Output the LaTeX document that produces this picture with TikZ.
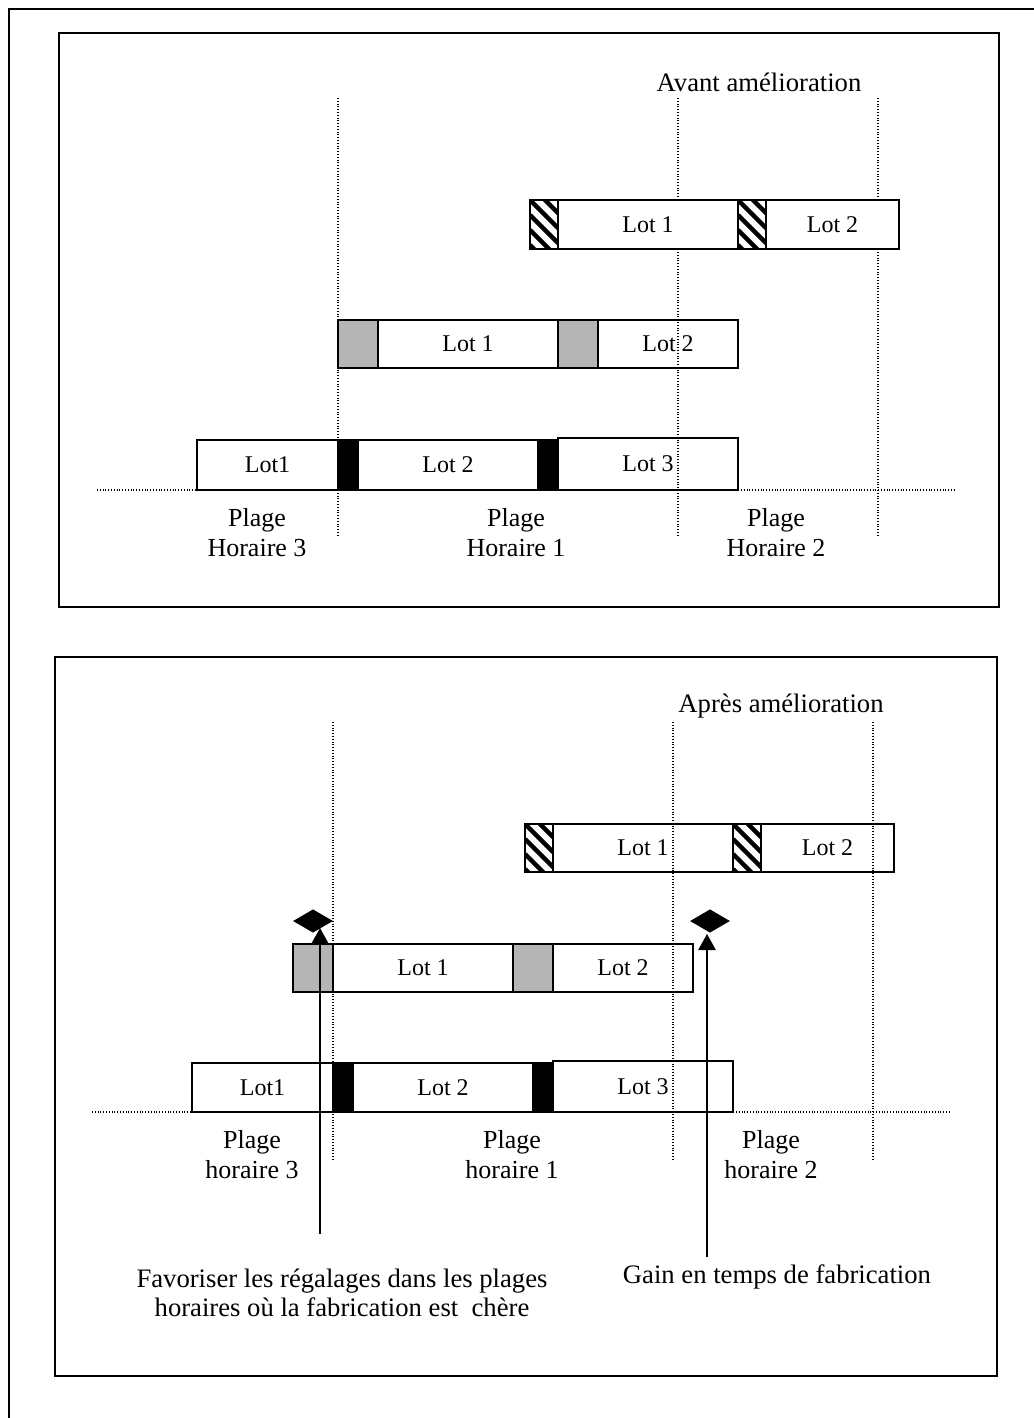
\documentclass[tikz,border=0pt]{standalone}
\usepackage{fontspec}
\setmainfont{Liberation Serif}
\usetikzlibrary{shapes.geometric,arrows.meta}
\newcommand\blk[7]{\node[#6, minimum width={(#3-#2)*0.75pt}, minimum height={(#5-#4)*0.75pt}] (#1) at ({(#2+#3)/2},{(#4+#5)/2}) {#7};}
\begin{document}
\begin{tikzpicture}[x=0.75pt,y=-0.75pt,
  frame/.style={line width=1.8pt},
  lotbox/.style={draw, fill=white, line width=1.4pt, inner sep=0pt, outer sep=0pt, font=\fontsize{18}{20}\selectfont},
  greybox/.style={lotbox, fill=gray!58},
  blackbox/.style={lotbox, fill=black},
  hatchbox/.style={lotbox, path picture={\foreach \k in {-4,...,3}{\draw[line width=3.2pt, line cap=butt] ([yshift=\k*11.25pt]path picture bounding box.north west) -- ++(60pt,-60pt);}}},
  gridline/.style={line width=0.8pt, dash pattern=on 0.8pt off 1.3pt},
  lbl/.style={align=center, font=\fontsize{19.5}{22.5}\selectfont},
  note/.style={align=center, font=\fontsize{20}{22}\selectfont},
  ttl/.style={font=\fontsize{20}{22}\selectfont},
  arr/.style={line width=1.2pt, -{Triangle[width=13pt,length=12pt]}},
  dia/.style={diamond, fill=black, inner sep=0pt, minimum width=30pt, minimum height=17.5pt}
]
\useasboundingbox (0,0) rectangle (1034,1418);
% outer frame (top and left edges)
\coordinate (o1) at (1034,9);
\coordinate (o2) at (9,9);
\coordinate (o3) at (9,1418);
\draw[frame] (o1) -- (o2) -- (o3);
% panel frames
\draw[frame] (59,33) rectangle (999,607);
\draw[frame] (55,657) rectangle (997,1376);

% ================= Panel 1 =================
\node[ttl] (t1) at (759,82) {Avant amélioration};
% row 2 and row 3 (grid lines drawn over them)
\blk{p1g1}{338}{378}{320}{368}{greybox}{}
\blk{p1r2a}{378}{558}{320}{368}{lotbox}{Lot 1}
\blk{p1g2}{558}{598}{320}{368}{greybox}{}
\blk{p1r2b}{598}{738}{320}{368}{lotbox}{Lot 2}
\blk{p1r3a}{197}{338}{440}{490}{lotbox}{Lot1}
\blk{p1k1}{338}{358}{440}{490}{blackbox}{}
\blk{p1r3b}{358}{538}{440}{490}{lotbox}{Lot 2}
\blk{p1k2}{538}{558}{440}{490}{blackbox}{}
\blk{p1r3c}{558}{738}{438}{490}{lotbox}{Lot 3}
% grid
\coordinate (p1v1t) at (338,98);  \coordinate (p1v1b) at (338,535);
\coordinate (p1v2t) at (678,98);  \coordinate (p1v2b) at (678,535);
\coordinate (p1v3t) at (878,98);  \coordinate (p1v3b) at (878,535);
\coordinate (p1al) at (97,490);   \coordinate (p1ar) at (955,490);
\draw[gridline] (p1v1t) -- (p1v1b);
\draw[gridline] (p1v2t) -- (p1v2b);
\draw[gridline] (p1v3t) -- (p1v3b);
\draw[gridline] (p1al) -- (p1ar);
% row 1 (opaque over grid)
\blk{p1h1}{530}{558}{200}{249}{hatchbox}{}
\blk{p1r1a}{558}{738}{200}{249}{lotbox}{Lot 1}
\blk{p1h2}{738}{766}{200}{249}{hatchbox}{}
\blk{p1r1b}{766}{899}{200}{249}{lotbox}{Lot 2}
% labels
\node[lbl] (p1l3) at (257,533) {Plage\\Horaire 3};
\node[lbl] (p1l1) at (516,533) {Plage\\Horaire 1};
\node[lbl] (p1l2) at (776,533) {Plage\\Horaire 2};

% ================= Panel 2 =================
\node[ttl] (t2) at (781,706) {Après amélioration};
\blk{p2h1}{525}{553}{824}{872}{hatchbox}{}
\blk{p2r1a}{553}{733}{824}{872}{lotbox}{Lot 1}
\blk{p2h2}{733}{761}{824}{872}{hatchbox}{}
\blk{p2r1b}{761}{894}{824}{872}{lotbox}{Lot 2}
\blk{p2g1}{293}{333}{944}{992}{greybox}{}
\blk{p2r2a}{333}{513}{944}{992}{lotbox}{Lot 1}
\blk{p2g2}{513}{553}{944}{992}{greybox}{}
\blk{p2r2b}{553}{693}{944}{992}{lotbox}{Lot 2}
\blk{p2r3a}{192}{333}{1063}{1112}{lotbox}{Lot1}
\blk{p2k1}{333}{353}{1063}{1112}{blackbox}{}
\blk{p2r3b}{353}{533}{1063}{1112}{lotbox}{Lot 2}
\blk{p2k2}{533}{553}{1063}{1112}{blackbox}{}
\blk{p2r3c}{553}{733}{1061}{1112}{lotbox}{Lot 3}
\coordinate (p2v1t) at (333,722);  \coordinate (p2v1b) at (333,1160);
\coordinate (p2v2t) at (673,722);  \coordinate (p2v2b) at (673,1160);
\coordinate (p2v3t) at (873,722);  \coordinate (p2v3b) at (873,1160);
\coordinate (p2al) at (92,1112);   \coordinate (p2ar) at (950,1112);
\draw[gridline] (p2v1t) -- (p2v1b);
\draw[gridline] (p2v2t) -- (p2v2b);
\draw[gridline] (p2v3t) -- (p2v3b);
\draw[gridline] (p2al) -- (p2ar);
\node[lbl] (p2l3) at (252,1155) {Plage\\horaire 3};
\node[lbl] (p2l1) at (512,1155) {Plage\\horaire 1};
\node[lbl] (p2l2) at (771,1155) {Plage\\horaire 2};
% diamonds and arrows
\node[dia] (d1) at (313,921) {};
\node[dia] (d2) at (710,921) {};
\coordinate (a1s) at (320,1234); \coordinate (a1e) at (320,928);
\coordinate (a2s) at (707,1257); \coordinate (a2e) at (707,934);
\draw[arr] (a1s) -- (a1e);
\draw[arr] (a2s) -- (a2e);
\node[note] (n1) at (342,1293) {Favoriser les régalages dans les plages\\horaires où la fabrication est\ \ chère};
\node[note] (n2) at (777,1277) {Gain en temps de fabrication};
\end{tikzpicture}
\end{document}
